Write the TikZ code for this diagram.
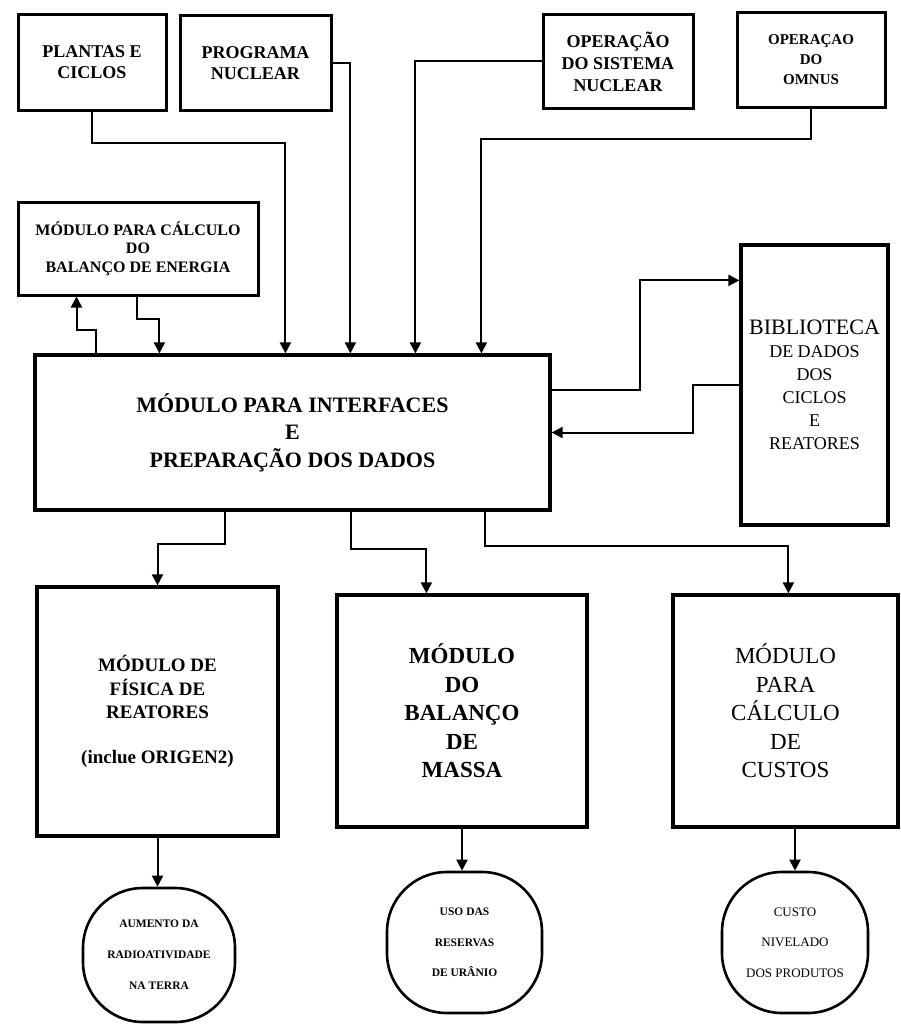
\documentclass[tikz,border=0pt]{standalone}
\usepackage{fontspec}
\setmainfont{Liberation Serif}
\usetikzlibrary{positioning, arrows.meta}
\tikzset{
  inbox/.style={rectangle, draw=black, line width=3pt, align=center, inner sep=2pt, font=\fontsize{18}{21}\selectfont\bfseries},
  module/.style={rectangle, draw=black, line width=3.2pt, align=center, inner sep=2pt},
  result/.style={rectangle, draw=black, line width=2.6pt, rounded corners=60pt, align=center, inner sep=2pt},
  arrow/.style={line width=2pt, -{Triangle[length=11pt,width=11pt]}},
}

\begin{document}
\begin{tikzpicture}[x=1pt, y=-1pt]
        \path[use as bounding box, fill=white] (0,0) rectangle (901,1025);

        % Inputs
        \node[inbox, minimum width=148pt, minimum height=95pt] (plantas) at (92,62.5) {PLANTAS E\\CICLOS};
        \node[inbox, minimum width=151pt, minimum height=94pt] (programa) at (255.5,63) {PROGRAMA\\NUCLEAR};
        \node[inbox, minimum width=150pt, minimum height=93pt, font=\fontsize{18}{22}\selectfont\bfseries] (sistema) at (618,61.5) {OPERAÇÃO\\DO SISTEMA\\NUCLEAR};
        \node[inbox, minimum width=148pt, minimum height=94pt, font=\fontsize{15}{20}\selectfont\bfseries] (omnus) at (811,60) {OPERAÇAO\\DO\\OMNUS};

        % Energy module
        \node[inbox, minimum width=240pt, minimum height=93pt, font=\fontsize{16}{18.5}\selectfont\bfseries] (energia) at (138,248.5) {MÓDULO PARA CÁLCULO\\DO\\BALANÇO DE ENERGIA};

        % Interfaces
        \node[module, minimum width=515pt, minimum height=155pt, font=\fontsize{22}{27.5}\selectfont\bfseries] (interfaces) at (292.5,432.5) {MÓDULO PARA INTERFACES\\E\\PREPARAÇÃO DOS DADOS};

        % Library
        \node[module, minimum width=147pt, minimum height=280pt, font=\fontsize{18}{23}\selectfont] (biblioteca) at (814.5,385) {{\fontsize{22}{25}\selectfont BIBLIOTECA}\\DE DADOS\\DOS\\CICLOS\\E\\REATORES};

        % Modules
        \node[module, minimum width=241pt, minimum height=249pt, font=\fontsize{19}{23.5}\selectfont\bfseries] (fisica) at (157.5,711.5) {MÓDULO DE\\FÍSICA DE\\REATORES\\[21pt](inclue ORIGEN2)};
        \node[module, minimum width=250pt, minimum height=232pt, font=\fontsize{23}{28.5}\selectfont\bfseries] (massa) at (462,711) {MÓDULO\\DO\\BALANÇO\\DE\\MASSA};
        \node[module, minimum width=225pt, minimum height=232pt, font=\fontsize{23}{28.5}\selectfont] (custos) at (785.5,711) {MÓDULO\\PARA\\CÁLCULO\\DE\\CUSTOS};

        % Results
        \node[result, minimum width=152pt, minimum height=134pt, font=\fontsize{11.5}{31}\selectfont\bfseries] (aumento) at (159,955) {AUMENTO DA\\RADIOATIVIDADE\\NA TERRA};
        \node[result, minimum width=155pt, minimum height=141pt, font=\fontsize{11.5}{30.5}\selectfont\bfseries] (reservas) at (464.5,942.5) {USO DAS\\RESERVAS\\DE URÂNIO};
        \node[result, minimum width=146pt, minimum height=141pt, font=\fontsize{13}{30.5}\selectfont] (nivelado) at (795,942.5) {CUSTO\\NIVELADO\\DOS PRODUTOS};

        % Connections
        \draw[arrow] (plantas.south) -- ++(0,31) -| ([xshift=252pt]interfaces.north west);
        \draw[arrow] (programa.east) -| ([xshift=317pt]interfaces.north west);
        \draw[arrow] (sistema.west) -| ([xshift=382pt]interfaces.north west);
        \draw[arrow] (omnus.south) -- ++(0,30) -| ([xshift=448pt]interfaces.north west);
        \draw[arrow] ([xshift=63pt]interfaces.north west) -- ++(0,-23) -| ([xshift=60pt]energia.south west);
        \draw[arrow] ([xshift=120pt]energia.south west) -- ++(0,22) -| ([xshift=126pt]interfaces.north west);
        \draw[arrow] ([yshift=-37pt]interfaces.north east) -- ++(88,0) |- ([yshift=-37pt]biblioteca.north west);
        \draw[arrow] (biblioteca.west) -- ++(-46,0) |- (interfaces.east);
        \draw[arrow] ([xshift=192pt]interfaces.south west) -- ++(0,32) -| (fisica.north);
        \draw[arrow] ([xshift=318pt]interfaces.south west) -- ++(0,37) -| ([xshift=91pt]massa.north west);
        \draw[arrow] ([xshift=452pt]interfaces.south west) -- ++(0,34) -| ([xshift=117pt]custos.north west);
        \draw[arrow] (fisica.south) -- (fisica.south |- aumento.north);
        \draw[arrow] (massa.south) -- (massa.south |- reservas.north);
        \draw[arrow] (nivelado.north |- custos.south) -- (nivelado.north);
\end{tikzpicture}
\end{document}
